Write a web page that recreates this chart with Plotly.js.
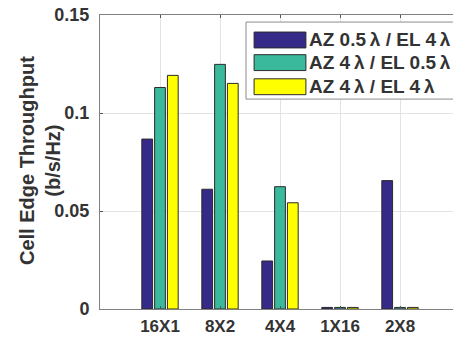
<!DOCTYPE html>
<html>
<head>
<meta charset="utf-8">
<script src="https://cdn.plot.ly/plotly-3.0.1.min.js"></script>
<style>
  html, body { margin: 0; padding: 0; overflow: hidden; background: #fff; }
  #chart { width: 470px; height: 341px; }
</style>
</head>
<body>
<div id="chart"></div>
<script>
// Antenna array configurations
const configs = ['16X1', '8X2', '4X4', '1X16', '2X8'];

// Cell edge throughput (b/s/Hz) per spacing setting
const az05_el4 = [0.0867, 0.0611, 0.0245, 0.0008, 0.0655];
const az4_el05 = [0.1130, 0.1248, 0.0624, 0.0008, 0.0008];
const az4_el4  = [0.1192, 0.1151, 0.0542, 0.0008, 0.0008];

const seriesNames = ['AZ 0.5λ / EL 4λ', 'AZ 4λ / EL 0.5λ', 'AZ 4λ / EL 4λ'];
const seriesColors = ['#352a87', '#3bb99c', '#ffff00'];

const yTicks = [0, 0.05, 0.1, 0.15];
const yTickText = ['0', '0.05', '0.1', '0.15'];

const textColor = '#333333';
const font = 'Arial, "Liberation Sans", sans-serif';

const seriesValues = [az05_el4, az4_el05, az4_el4];
const traces = seriesValues.map((vals, i) => ({
  type: 'bar',
  x: configs,
  y: vals,
  name: seriesNames[i],
  marker: { color: seriesColors[i], line: { color: '#2b2b2b', width: 1 } },
  showlegend: false,
  hoverinfo: 'x+y'
}));

// Boxed legend with wide colour swatches, placed in the upper right
const legendShapes = [{
  type: 'rect', xref: 'paper', yref: 'paper',
  x0: 0.4056, x1: 1.02, y0: 0.714, y1: 0.976,
  line: { color: '#8c8c8c', width: 1 }, fillcolor: '#ffffff', layer: 'above'
}];
const legendNotes = [];
const rowY = [0.915, 0.838, 0.756];
seriesNames.forEach((name, i) => {
  legendShapes.push({
    type: 'rect', xref: 'paper', yref: 'paper',
    x0: 0.428, x1: 0.572, y0: rowY[i] - 0.027, y1: rowY[i] + 0.027,
    line: { color: '#2b2b2b', width: 1 }, fillcolor: seriesColors[i], layer: 'above'
  });
  legendNotes.push({
    xref: 'paper', yref: 'paper', x: 0.574, y: rowY[i],
    xanchor: 'left', yanchor: 'middle', showarrow: false,
    text: '<b>' + name.replace(/λ/g, '\u2009λ') + '</b>',
    font: { family: font, size: 19, color: textColor }
  });
});

// Two-line y-axis title
legendNotes.push({
  xref: 'paper', yref: 'paper', x: -0.168, y: 0.505,
  xanchor: 'center', yanchor: 'middle', showarrow: false, textangle: -90,
  text: '<b>Cell Edge Throughput</b><br><b>(b/s/Hz)</b>',
  font: { family: font, size: 20, color: textColor }
});

const layout = {
  width: 470,
  height: 341,
  margin: { l: 100, r: 10, t: 15, b: 32 },
  paper_bgcolor: '#ffffff',
  plot_bgcolor: '#ffffff',
  barmode: 'group',
  bargap: 0.36,
  bargroupgap: 0.16,
  font: { family: font, color: textColor },
  xaxis: {
    type: 'category',
    range: [-1, 5],
    showgrid: true, gridcolor: '#e3e3e3', gridwidth: 1,
    showline: true, linecolor: '#808080', linewidth: 1, mirror: 'ticks',
    ticks: 'inside', ticklen: 3, tickcolor: '#555555',
    tickfont: { family: font, size: 17, color: textColor, weight: 'bold' },
    ticklabelstandoff: 2,
    zeroline: false,
    fixedrange: true
  },
  yaxis: {
    range: [0, 0.15],
    tickvals: yTicks, ticktext: yTickText,
    showgrid: true, gridcolor: '#e3e3e3', gridwidth: 1,
    showline: true, linecolor: '#808080', linewidth: 1, mirror: 'ticks',
    ticks: 'inside', ticklen: 3, tickcolor: '#555555',
    tickfont: { family: font, size: 18, color: textColor, weight: 'bold' },
    ticklabelstandoff: 6,
    zeroline: false,
    fixedrange: true
  },
  shapes: legendShapes,
  annotations: legendNotes
};

Plotly.newPlot('chart', traces, layout, { displayModeBar: false, staticPlot: true });
</script>
</body>
</html>
